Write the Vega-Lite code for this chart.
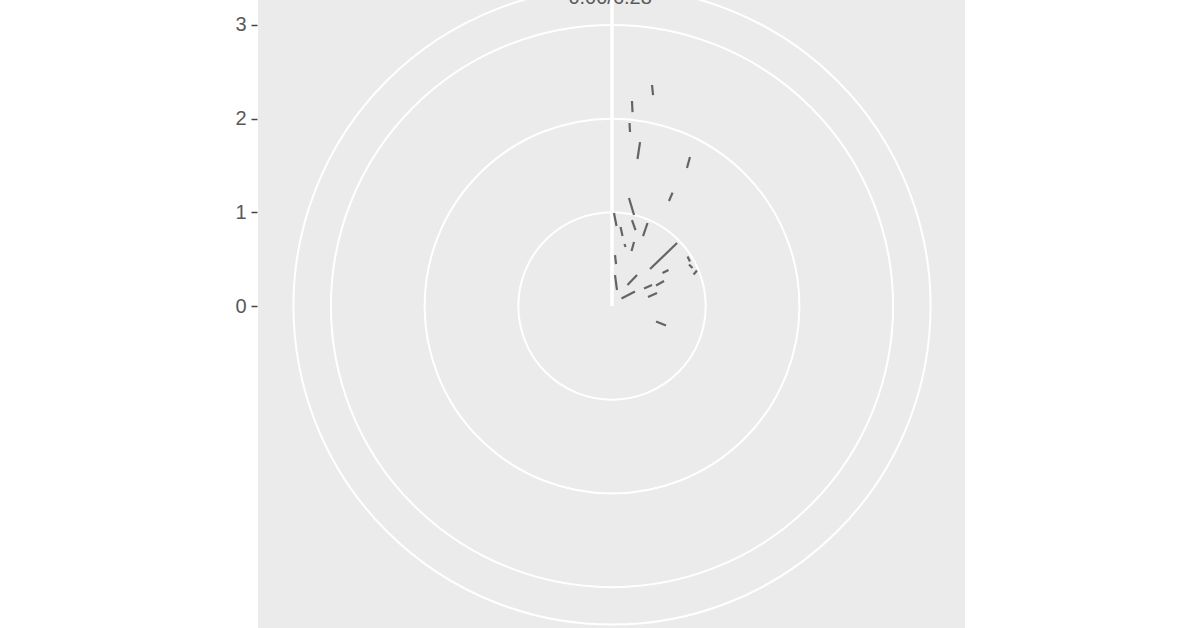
{
  "$schema": "https://vega.github.io/schema/vega-lite/v6.json",
  "description": "Polar plot of short segments, radial axis 0-3, drawn on a grey ggplot-style panel.",
  "width": 707,
  "height": 628,
  "autosize": "none",
  "padding": {"left": 258, "top": 0, "right": 231, "bottom": 0},
  "background": "white",
  "view": {"fill": "#EBEBEB", "stroke": null},
  "data": {
    "values": [
      {"kind": "circle", "x": 0, "y": 0, "r": 1},
      {"kind": "circle", "x": 0, "y": 0, "r": 2},
      {"kind": "circle", "x": 0, "y": 0, "r": 3},
      {"kind": "circle", "x": 0, "y": 0, "r": 3.4},
      {"kind": "spoke", "x": 0, "y": 0, "x2": 0, "y2": 3.4},
      {"kind": "seg", "x": 0.427, "y": 2.359, "x2": 0.438, "y2": 2.252},
      {"kind": "seg", "x": 0.213, "y": 2.188, "x2": 0.219, "y2": 2.070},
      {"kind": "seg", "x": 0.187, "y": 1.953, "x2": 0.192, "y2": 1.857},
      {"kind": "seg", "x": 0.299, "y": 1.750, "x2": 0.272, "y2": 1.569},
      {"kind": "seg", "x": 0.832, "y": 1.590, "x2": 0.800, "y2": 1.473},
      {"kind": "seg", "x": 0.646, "y": 1.211, "x2": 0.608, "y2": 1.121},
      {"kind": "seg", "x": 0.181, "y": 1.153, "x2": 0.235, "y2": 0.971},
      {"kind": "seg", "x": 0.021, "y": 0.993, "x2": 0.048, "y2": 0.854},
      {"kind": "seg", "x": 0.091, "y": 0.843, "x2": 0.112, "y2": 0.747},
      {"kind": "seg", "x": 0.213, "y": 0.918, "x2": 0.251, "y2": 0.811},
      {"kind": "seg", "x": 0.379, "y": 0.886, "x2": 0.331, "y2": 0.747},
      {"kind": "seg", "x": 0.235, "y": 0.683, "x2": 0.208, "y2": 0.587},
      {"kind": "seg", "x": 0.133, "y": 0.662, "x2": 0.144, "y2": 0.630},
      {"kind": "seg", "x": 0.032, "y": 0.544, "x2": 0.043, "y2": 0.448},
      {"kind": "seg", "x": 0.694, "y": 0.672, "x2": 0.406, "y2": 0.395},
      {"kind": "seg", "x": 0.806, "y": 0.528, "x2": 0.832, "y2": 0.475},
      {"kind": "seg", "x": 0.822, "y": 0.443, "x2": 0.859, "y2": 0.406},
      {"kind": "seg", "x": 0.907, "y": 0.379, "x2": 0.870, "y2": 0.336},
      {"kind": "seg", "x": 0.032, "y": 0.331, "x2": 0.053, "y2": 0.171},
      {"kind": "seg", "x": 0.267, "y": 0.331, "x2": 0.165, "y2": 0.224},
      {"kind": "seg", "x": 0.603, "y": 0.384, "x2": 0.539, "y2": 0.352},
      {"kind": "seg", "x": 0.427, "y": 0.224, "x2": 0.342, "y2": 0.187},
      {"kind": "seg", "x": 0.555, "y": 0.267, "x2": 0.470, "y2": 0.219},
      {"kind": "seg", "x": 0.245, "y": 0.155, "x2": 0.101, "y2": 0.080},
      {"kind": "seg", "x": 0.480, "y": 0.139, "x2": 0.384, "y2": 0.096},
      {"kind": "seg", "x": 0.470, "y": -0.165, "x2": 0.576, "y2": -0.208},
      {"kind": "label", "x": -0.02, "y": 3.223, "label": "0.00/6.28"}
    ]
  },
  "encoding": {
    "x": {
      "field": "x",
      "type": "quantitative",
      "scale": {"domain": [-3.778, 3.767], "nice": false, "zero": false},
      "axis": null
    },
    "y": {
      "field": "y",
      "type": "quantitative",
      "scale": {"domain": [-3.436, 3.266], "nice": false, "zero": false},
      "axis": {
        "title": null,
        "values": [0, 1, 2, 3],
        "grid": false,
        "domain": false,
        "tickSize": 6,
        "tickWidth": 1.5,
        "tickColor": "#444444",
        "offset": 1,
        "labelPadding": 5,
        "labelFont": "Liberation Sans",
        "labelFontSize": 20,
        "labelColor": "#595959"
      }
    }
  },
  "layer": [
    {
      "transform": [{"filter": "datum.kind === 'circle'"}],
      "mark": {"type": "point", "shape": "circle", "filled": false, "color": "white", "opacity": 1, "strokeWidth": 2},
      "encoding": {
        "size": {
          "field": "r",
          "type": "quantitative",
          "scale": {"type": "pow", "exponent": 2, "domain": [0, 3.4], "range": [0, 405977]},
          "legend": null
        }
      }
    },
    {
      "transform": [{"filter": "datum.kind === 'spoke'"}],
      "mark": {"type": "rule", "color": "white", "strokeWidth": 3.5},
      "encoding": {
        "x2": {"field": "x2"},
        "y2": {"field": "y2"}
      }
    },
    {
      "transform": [{"filter": "datum.kind === 'seg'"}],
      "mark": {"type": "rule", "color": "#555555", "strokeWidth": 2.2, "opacity": 0.9},
      "encoding": {
        "x2": {"field": "x2"},
        "y2": {"field": "y2"}
      }
    },
    {
      "transform": [{"filter": "datum.kind === 'label'"}],
      "mark": {"type": "text", "font": "Liberation Sans", "fontSize": 20, "color": "#595959", "baseline": "alphabetic", "align": "center"},
      "encoding": {
        "text": {"field": "label"}
      }
    }
  ]
}
